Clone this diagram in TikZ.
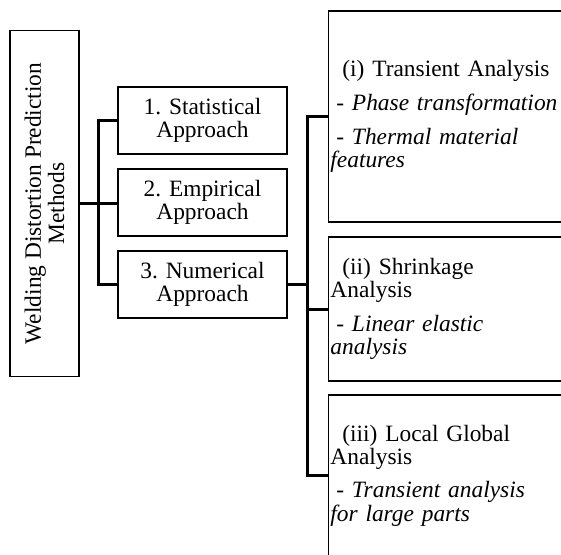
\documentclass[tikz,border=0pt]{standalone}
\usepackage{fontspec}
\setmainfont{Liberation Serif}
\usetikzlibrary{calc, positioning}

\begin{document}
\begin{tikzpicture}[x=0.5pt, y=-0.5pt,
  font=\fontsize{11.7}{11.7}\selectfont,
  box/.style={draw, line width=0.9pt, inner sep=0pt},
  approach/.style={box, minimum width=84.5pt, minimum height=33.5pt, align=center},
  analysis/.style={box, anchor=west, minimum width=146pt, text width=144pt, inner xsep=1pt, align=left},
  link/.style={line width=1.5pt}]
\useasboundingbox (0,0) rectangle (561,554);

\node[box, rotate=90, minimum width=173pt, minimum height=34.5pt, align=center] (meth) at (44.5,203.5)
  {Welding Distortion Prediction\\Methods};

\node[approach] (s1) at (202.5,120.5) {1. Statistical\\Approach};
\node[approach, below=6.5pt of s1] (s2) {2. Empirical\\Approach};
\node[approach, below=6.5pt of s2] (s3) {3. Numerical\\Approach};

\node[analysis, minimum height=105.5pt] (ta) at (327.5,116.5)
  {\hspace*{6pt}(i) Transient Analysis\\[5.5pt]
   \hspace*{3pt}- \textit{Phase transformation}\\[5pt]
   \hspace*{3pt}- \textit{Thermal material}\\
   \textit{features}};
\node[analysis, minimum height=72pt] (tb) at (327.5,309)
  {\hspace*{6pt}(ii) Shrinkage\\
   Analysis\\[5pt]
   \hspace*{3pt}- \textit{Linear elastic}\\
   \textit{analysis}};
\node[analysis, minimum height=80.5pt] (tc) at (327.5,475.5)
  {\hspace*{6pt}(iii) Local Global\\
   Analysis\\[5pt]
   \hspace*{3pt}- \textit{Transient analysis}\\
   \textit{for large parts}};

\coordinate (bus1) at ($(meth.south)!0.5!(s2.west)$);
\coordinate (bus2) at ($(s3.east)+(20,0)$);

\draw[link] (meth.south) -- (meth.south -| s2.west);
\draw[link] (s1.west) -| (bus1) |- (s3.west);
\draw[link] (s3.east) -- (bus2);
\draw[link] (ta.west) -| (bus2) |- (tc.west);
\draw[link] (tb.west) -- (tb.west -| bus2);
\end{tikzpicture}
\end{document}
